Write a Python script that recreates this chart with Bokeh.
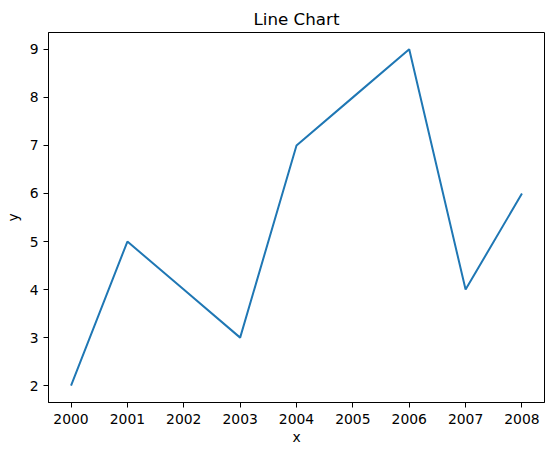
from bokeh.plotting import figure
from bokeh.models import Range1d, FixedTicker
from bokeh.embed import file_html
from bokeh.resources import INLINE

years = [2000, 2001, 2002, 2003, 2004, 2005, 2006, 2007, 2008]
values = [2, 5, 4, 3, 7, 8, 9, 4, 6]
x_ticks = [2000, 2001, 2002, 2003, 2004, 2005, 2006, 2007, 2008]
y_ticks = [2, 3, 4, 5, 6, 7, 8, 9]

FONT = "DejaVu Sans"

p = figure(width=546, height=447, output_backend="svg", toolbar_location=None,
           x_range=Range1d(1999.6, 2008.4), y_range=Range1d(1.65, 9.35),
           min_border_left=48, min_border_right=2, min_border_top=32, min_border_bottom=45)
p.title.text = "Line Chart"
p.title.align = "center"
p.title.text_font = FONT
p.title.text_font_size = "16.7px"
p.title.text_font_style = "normal"
p.title.text_color = "black"
p.title.standoff = 8
p.title.offset = 0

p.line(years, values, line_color="#1f77b4", line_width=2)

p.xgrid.visible = False
p.ygrid.visible = False
p.outline_line_color = "black"
p.outline_line_width = 1
p.background_fill_color = "white"
p.border_fill_color = "white"

for ax, lbl, ticks, ls, als in ((p.xaxis[0], "x", x_ticks, 6, 2), (p.yaxis[0], "y", y_ticks, 5, 6)):
    ax.ticker = FixedTicker(ticks=ticks)
    ax.axis_label = lbl
    ax.axis_label_text_font = FONT
    ax.axis_label_text_font_size = "13.9px"
    ax.axis_label_text_font_style = "normal"
    ax.axis_label_text_color = "black"
    ax.major_label_text_font = FONT
    ax.major_label_text_font_size = "13.9px"
    ax.major_label_text_color = "black"
    ax.major_tick_out = 5
    ax.major_tick_in = 0
    ax.minor_tick_out = 0
    ax.minor_tick_in = 0
    ax.major_label_standoff = ls
    ax.axis_label_standoff = als
    ax.axis_line_color = "black"
    ax.major_tick_line_color = "black"

open("out.html", "w").write(file_html(p, INLINE))
